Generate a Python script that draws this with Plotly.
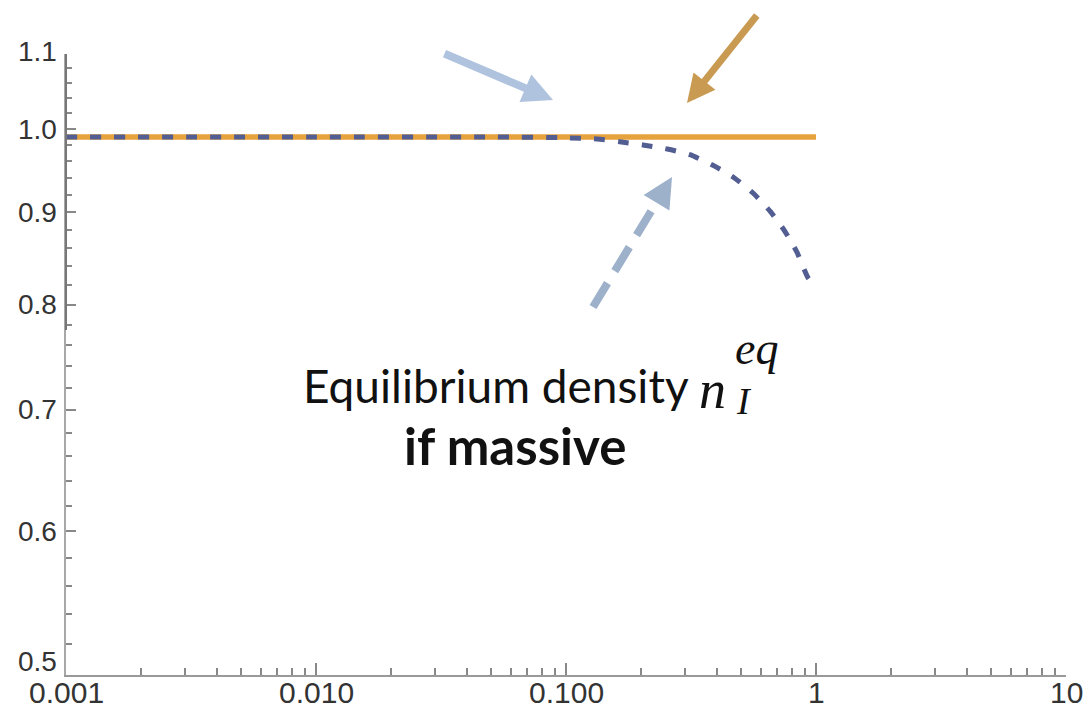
import math
import plotly.graph_objects as go

# ---- data ----
x_solid = [0.001, 0.01, 0.1, 1.0]
y_solid = [0.99, 0.99, 0.99, 0.99]

x_dashed = [0.001, 0.01, 0.05, 0.1, 0.133, 0.164, 0.203, 0.254, 0.313, 0.387,
            0.466, 0.56, 0.655, 0.752, 0.84, 0.929, 1.0]
y_dashed = [0.99, 0.99, 0.99, 0.989, 0.9875, 0.984, 0.980, 0.975, 0.968, 0.955,
            0.941, 0.922, 0.901, 0.878, 0.855, 0.828, 0.818]

x_tickvals = [0.001, 0.01, 0.1, 1, 10]
x_ticktext = ["0.001", "0.010", "0.100", "1", "10"]
x_minor = [k * 10.0 ** e for e in range(-3, 1) for k in range(2, 10)]

y_tickvals = [0.5, 0.6, 0.7, 0.8, 0.9, 1.0, 1.1]
y_ticktext = ["0.5", "0.6", "0.7", "0.8", "0.9", "1.0", "1.1"]
y_minor = [0.52, 0.54, 0.56, 0.58, 0.62, 0.64, 0.66, 0.68, 0.72, 0.74, 0.76, 0.78,
           0.82, 0.84, 0.86, 0.88, 0.92, 0.94, 0.96, 0.98, 1.02, 1.04, 1.06, 1.08]

ORANGE = "#E6A23C"
DBLUE = "#525D92"

fig = go.Figure()
fig.add_trace(go.Scatter(x=x_solid, y=y_solid, mode="lines",
                         line=dict(color=ORANGE, width=5.5), showlegend=False))
fig.add_trace(go.Scatter(x=x_dashed, y=y_dashed, mode="lines",
                         line=dict(color=DBLUE, width=5, dash="11px,13px",
                                   shape="spline", smoothing=0.6),
                         showlegend=False))

W, H = 1087, 709
L, R, T, B = 66, 21, 54, 34
pw, ph = W - L - R, H - T - B


def px(xp):
    return (xp - L) / pw


def py(yp):
    return (H - B - yp) / ph


annotations = []
# x tick labels (annotations so they sit tight under the axis)
for v, t in zip(x_tickvals, x_ticktext):
    annotations.append(dict(xref="x", yref="paper", x=math.log10(v), y=py(693),
                            xanchor="center", yanchor="middle", showarrow=False,
                            borderpad=0,
                            text=t, font=dict(family="Liberation Sans", size=30,
                                              color="#333333")))
# y tick labels (end labels nudged inward as in the original)
for v, t in zip(y_tickvals, y_ticktext):
    shift = 14 if v == y_tickvals[0] else (3 if v == y_tickvals[-1] else 0)
    annotations.append(dict(xref="paper", yref="y", x=0, y=math.log10(v),
                            xanchor="right", yanchor="middle", showarrow=False,
                            xshift=-8, yshift=shift, text=t, borderpad=0,
                            font=dict(family="Liberation Sans", size=28,
                                      color="#333333")))
# arrows
annotations.append(dict(xref="paper", yref="paper", x=px(553), y=py(100),
                        ax=443 - 553, ay=53 - 100, text="", showarrow=True,
                        arrowhead=2, arrowsize=0.75, arrowwidth=8,
                        arrowcolor="#AFC3DF"))
annotations.append(dict(xref="paper", yref="paper", x=px(687), y=py(103),
                        ax=758 - 687, ay=14 - 103, text="", showarrow=True,
                        arrowhead=2, arrowsize=0.8, arrowwidth=7,
                        arrowcolor="#C99B52"))
annotations.append(dict(xref="paper", yref="paper", x=px(672), y=py(177),
                        ax=663 - 672, ay=192 - 177, text="", showarrow=True,
                        arrowhead=2, arrowsize=0.75, arrowwidth=8,
                        arrowcolor="#9DB1CB"))
# texts
annotations.append(dict(xref="paper", yref="paper", x=px(301), y=py(386),
                        xanchor="left", yanchor="middle", showarrow=False,
                        text="Equilibrium density",
                        font=dict(family="Lato", size=46, color="#111111")))
annotations.append(dict(xref="paper", yref="paper", x=px(515), y=py(445),
                        xanchor="center", yanchor="middle", showarrow=False,
                        text="<b>if massive</b>",
                        font=dict(family="Lato", size=51, color="#111111")))
annotations.append(dict(xref="paper", yref="paper", x=px(697), y=py(390),
                        xanchor="left", yanchor="middle", showarrow=False,
                        text="<i>n</i>",
                        font=dict(family="Liberation Serif", size=54, color="#111111")))
annotations.append(dict(xref="paper", yref="paper", x=px(733), y=py(348),
                        xanchor="left", yanchor="middle", showarrow=False,
                        text="<i>eq</i>",
                        font=dict(family="Liberation Serif", size=46, color="#111111")))
annotations.append(dict(xref="paper", yref="paper", x=px(734), y=py(401),
                        xanchor="left", yanchor="middle", showarrow=False,
                        text="<i>I</i>",
                        font=dict(family="Liberation Serif", size=38, color="#111111")))

shapes = [
    # dashed shaft of the lower arrow
    dict(type="line", xref="paper", yref="paper",
         x0=px(593), y0=py(307), x1=px(664), y1=py(190),
         line=dict(color="#9DB1CB", width=8, dash="28px,14px")),
    # darker upper part of the y axis line
    dict(type="line", xref="paper", yref="paper",
         x0=0, y0=py(330), x1=0, y1=1,
         line=dict(color="#777777", width=2)),
]

fig.update_layout(
    width=W, height=H,
    margin=dict(l=L, r=R, t=T, b=B, autoexpand=False),
    paper_bgcolor="white", plot_bgcolor="white",
    annotations=annotations, shapes=shapes,
    showlegend=False,
    xaxis=dict(type="log", range=[-3, 1], tickmode="array",
               tickvals=x_tickvals, ticktext=x_ticktext, automargin=False,
               showticklabels=False,
               ticks="inside", ticklen=12, tickwidth=1.5, tickcolor="#888888",
               showline=True, linecolor="#999999", linewidth=2,
               showgrid=False, zeroline=False,
               minor=dict(tickmode="array", tickvals=x_minor, ticks="inside",
                          ticklen=7, tickwidth=1.5, tickcolor="#888888",
                          showgrid=False)),
    yaxis=dict(type="log", range=[-0.30103, 0.0413927], tickmode="array",
               tickvals=y_tickvals, ticktext=y_ticktext, automargin=False,
               showticklabels=False,
               ticks="inside", ticklen=10, tickwidth=1.5, tickcolor="#888888",
               showline=True, linecolor="#A8A8A8", linewidth=2,
               showgrid=False, zeroline=False,
               minor=dict(tickmode="array", tickvals=y_minor, ticks="inside",
                          ticklen=6, tickwidth=1.5, tickcolor="#888888",
                          showgrid=False)),
)

fig.write_html("out.html")
